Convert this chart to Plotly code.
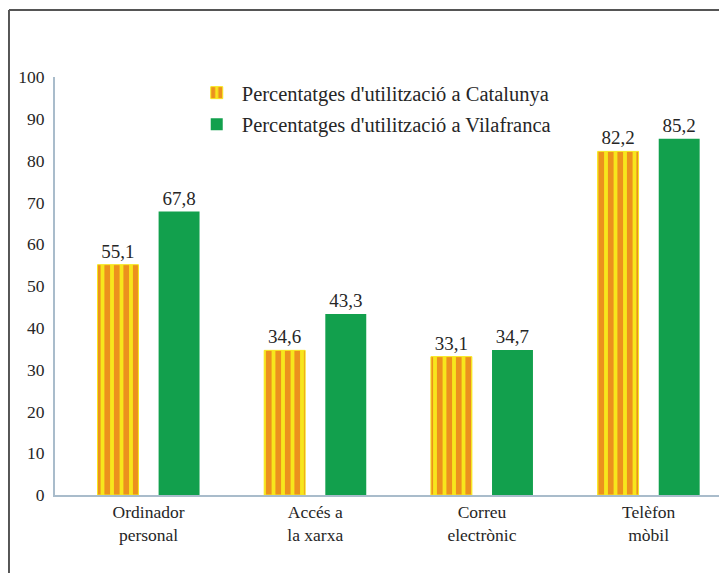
import plotly.graph_objects as go

categories = ["Ordinador<br>personal", "Accés a<br>la xarxa", "Correu<br>electrònic", "Telèfon<br>mòbil"]
catalunya = [55.1, 34.6, 33.1, 82.2]
vilafranca = [67.8, 43.3, 34.7, 85.2]
series_names = ["Percentatges d'utilització a Catalunya", "Percentatges d'utilització a Vilafranca"]
y_ticks = list(range(0, 101, 10))

FONT = "Liberation Serif"
TXT = "#262626"

fig = go.Figure()
fig.add_trace(go.Bar(
    x=categories, y=catalunya, name=series_names[0], legendgroup="a",
    marker=dict(color="#f7e61c", line=dict(color="#f7e61c", width=1),
                pattern=dict(shape="|", fgcolor="#e23c1e", bgcolor="#f7e61c", size=9.5, solidity=0.6)),
    texttemplate="%{y:.1f}", textposition="outside",
    textfont=dict(family=FONT, size=19, color=TXT), cliponaxis=False,
))
fig.add_trace(go.Bar(
    x=categories, y=vilafranca, name=series_names[1], legendgroup="b",
    marker=dict(color="#12a04d", line=dict(width=0)),
    texttemplate="%{y:.1f}", textposition="outside",
    textfont=dict(family=FONT, size=19, color=TXT), cliponaxis=False,
))

axis_line = "#a9bccb"
fig.update_layout(
    width=719, height=565,
    margin=dict(l=47, r=5, t=69, b=78),
    paper_bgcolor="white", plot_bgcolor="white",
    separators=", ",
    barmode="group", bargap=0.267, bargroupgap=0.33,
    font=dict(family=FONT, color=TXT),
    showlegend=True,
    legend=dict(x=0.205, y=1.01, xanchor="left", yanchor="top",
                font=dict(family=FONT, size=20.5, color=TXT),
                bgcolor="rgba(0,0,0,0)", traceorder="grouped", tracegroupgap=2,
                itemwidth=40),
    xaxis=dict(range=[-0.561, 3.44], showline=True, linecolor=axis_line, linewidth=2,
               ticks="", showgrid=False, tickfont=dict(family=FONT, size=17.5, color=TXT)),
    yaxis=dict(range=[0, 100], tickvals=y_ticks, showline=True, linecolor=axis_line, linewidth=2,
               ticks="", showgrid=False, zeroline=False, ticklabelstandoff=5,
               tickfont=dict(family=FONT, size=17.5, color=TXT)),
    shapes=[
        dict(type="line", xref="paper", yref="paper", x0=-0.069, x1=1.01, y0=1.16, y1=1.16,
             line=dict(color="#555555", width=2)),
        dict(type="line", xref="paper", yref="paper", x0=-0.069, x1=-0.069, y0=-0.19, y1=1.16,
             line=dict(color="#555555", width=2)),
    ],
)

fig.write_html("out.html")
